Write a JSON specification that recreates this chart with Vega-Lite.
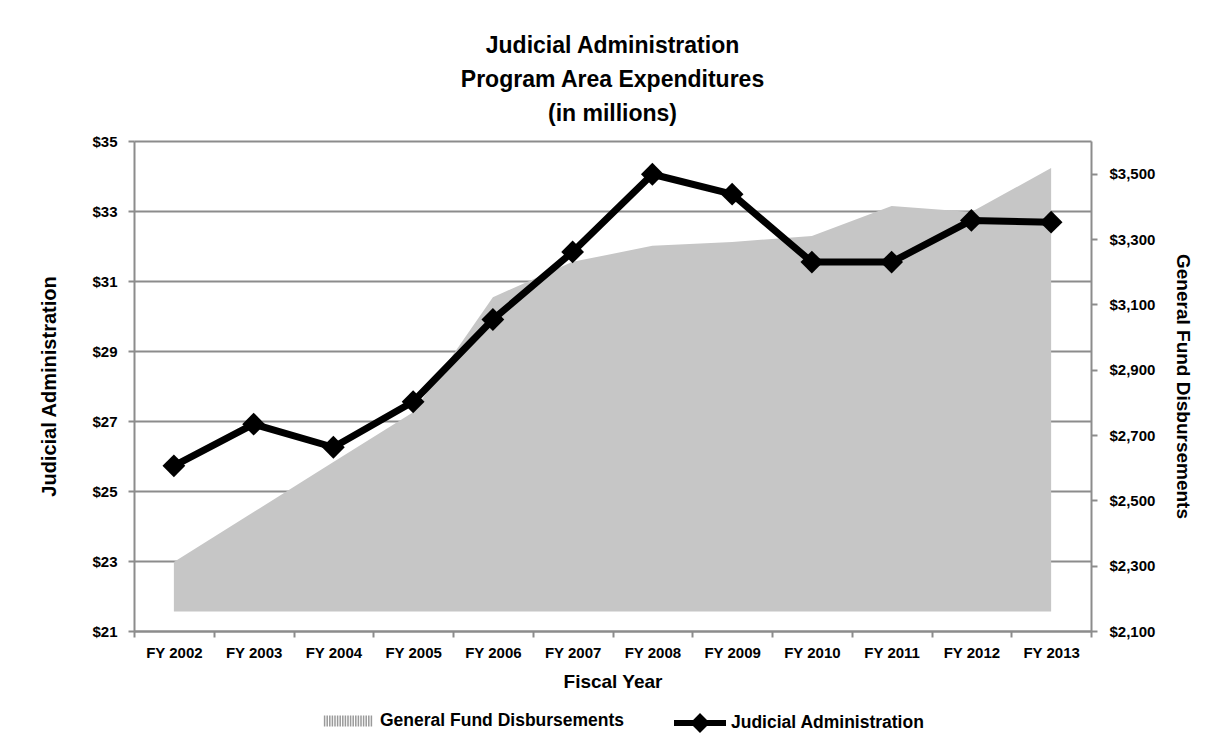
{
  "$schema": "https://vega.github.io/schema/vega-lite/v6.json",
  "width": 957,
  "height": 490,
  "autosize": {"type": "none"},
  "padding": {"left": 134, "top": 141, "right": 137, "bottom": 119},
  "background": "white",
  "title": {
    "text": ["Judicial Administration", "Program Area Expenditures", "(in millions)"],
    "font": "Liberation Sans",
    "fontSize": 23,
    "fontWeight": "bold",
    "color": "black",
    "lineHeight": 34,
    "anchor": "middle",
    "frame": "group",
    "baseline": "bottom",
    "offset": -15
  },
  "config": {
    "view": {"stroke": null},
    "axis": {
      "domainColor": "#8c8c8c",
      "domainWidth": 2,
      "tickColor": "#8c8c8c",
      "tickWidth": 2,
      "tickSize": 6,
      "gridColor": "#8c8c8c",
      "gridWidth": 2,
      "labelFont": "Liberation Sans",
      "labelFontSize": 15,
      "labelFontWeight": "bold",
      "labelColor": "black",
      "titleFont": "Liberation Sans",
      "titleFontWeight": "bold",
      "titleColor": "black"
    },
    "legend": {
      "labelFont": "Liberation Sans",
      "labelFontSize": 17.5,
      "labelFontWeight": "bold",
      "labelColor": "black",
      "labelLimit": 500
    }
  },
  "data": {
    "values": [
      {"year": "FY 2002", "ja": 25.72, "gfd": 2311},
      {"year": "FY 2003", "ja": 26.91, "gfd": 2464},
      {"year": "FY 2004", "ja": 26.25, "gfd": 2617},
      {"year": "FY 2005", "ja": 27.55, "gfd": 2770},
      {"year": "FY 2006", "ja": 29.9, "gfd": 3122},
      {"year": "FY 2007", "ja": 31.83, "gfd": 3230},
      {"year": "FY 2008", "ja": 34.05, "gfd": 3279},
      {"year": "FY 2009", "ja": 33.48, "gfd": 3291},
      {"year": "FY 2010", "ja": 31.54, "gfd": 3309},
      {"year": "FY 2011", "ja": 31.54, "gfd": 3401},
      {"year": "FY 2012", "ja": 32.73, "gfd": 3383},
      {"year": "FY 2013", "ja": 32.68, "gfd": 3517}
    ]
  },
  "encoding": {
    "x": {
      "field": "year",
      "type": "nominal",
      "sort": null,
      "bandPosition": 0.5,
      "scale": {"type": "band", "paddingInner": 0, "paddingOuter": 0},
      "axis": {
        "title": "Fiscal Year",
        "titleFontSize": 19,
        "titlePadding": 12,
        "labelAngle": 0,
        "labelPadding": 8,
        "tickBand": "extent",
        "grid": false
      }
    }
  },
  "layer": [
    {
      "mark": {"type": "area", "opacity": 1, "line": false},
      "encoding": {
        "y": {
          "field": "gfd",
          "type": "quantitative",
          "scale": {"domain": [2100, 3600], "nice": false, "zero": false},
          "axis": {
            "orient": "right",
            "title": "General Fund Disbursements",
            "titleFontSize": 19,
            "titlePadding": 18,
            "values": [2100, 2300, 2500, 2700, 2900, 3100, 3300, 3500],
            "format": "$,.0f",
            "labelPadding": 12,
            "grid": false
          }
        },
        "y2": {"datum": 2160},
        "fill": {
          "datum": "General Fund Disbursements",
          "scale": {"range": ["#c6c6c6"]},
          "legend": {
            "title": null,
            "orient": "none",
            "legendX": 187,
            "legendY": 553,
            "symbolType": "M-0.9,-0.21V0.21M-0.8,-0.21V0.21M-0.7,-0.21V0.21M-0.6,-0.21V0.21M-0.5,-0.21V0.21M-0.4,-0.21V0.21M-0.3,-0.21V0.21M-0.2,-0.21V0.21M-0.1,-0.21V0.21M0,-0.21V0.21M0.1,-0.21V0.21M0.2,-0.21V0.21M0.3,-0.21V0.21M0.4,-0.21V0.21M0.5,-0.21V0.21M0.6,-0.21V0.21M0.7,-0.21V0.21M0.8,-0.21V0.21M0.9,-0.21V0.21",
            "symbolSize": 2704,
            "symbolStrokeColor": "#9a9a9a",
            "symbolStrokeWidth": 1.5,
            "symbolOpacity": 1,
            "labelOffset": 5
          }
        }
      }
    },
    {
      "encoding": {
        "y": {
          "field": "ja",
          "type": "quantitative",
          "scale": {"domain": [21, 35], "nice": false, "zero": false},
          "axis": {
            "orient": "left",
            "title": "Judicial Administration",
            "titleFontSize": 20,
            "titlePadding": 32,
            "values": [21, 23, 25, 27, 29, 31, 33, 35],
            "format": "$.0f",
            "labelPadding": 11,
            "grid": true
          }
        }
      },
      "layer": [
        {
          "mark": {"type": "line", "strokeWidth": 7, "strokeJoin": "round"},
          "encoding": {
            "stroke": {
              "datum": "Judicial Administration",
              "scale": {"range": ["black"]},
              "legend": {
                "title": null,
                "orient": "none",
                "legendX": 537,
                "legendY": 553,
                "symbolType": "M-1,0H1M-0.22,0L0,-0.22L0.22,0L0,0.22Z",
                "symbolSize": 2704,
                "symbolStrokeWidth": 6,
                "symbolFillColor": "black",
                "symbolOpacity": 1,
                "labelOffset": 2
              }
            }
          }
        },
        {
          "mark": {"type": "point", "shape": "diamond", "filled": true, "size": 520, "color": "black", "opacity": 1},
          "encoding": {}
        }
      ]
    }
  ],
  "resolve": {"scale": {"y": "independent"}}
}
